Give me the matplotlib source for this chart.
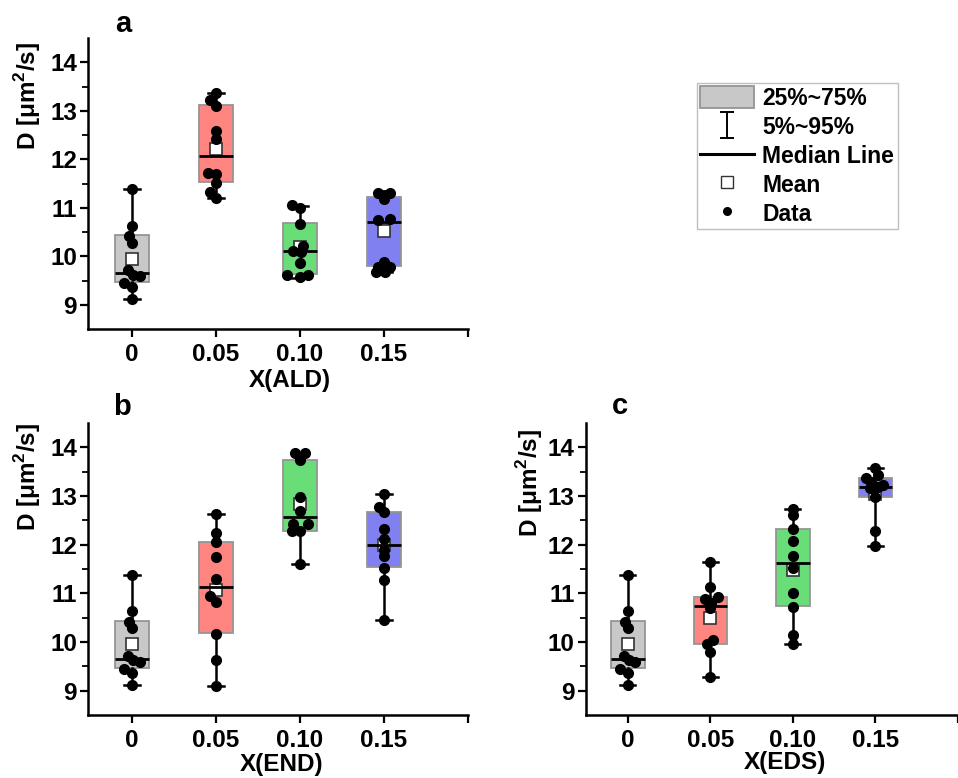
import matplotlib
matplotlib.use("Agg")
import matplotlib.pyplot as plt
from matplotlib.patches import Patch
from matplotlib.lines import Line2D
from matplotlib.path import Path

plt.rcParams['font.family'] = ['Liberation Sans', 'DejaVu Sans']
plt.rcParams['font.weight'] = 'bold'
plt.rcParams['mathtext.fontset'] = 'custom'
plt.rcParams['mathtext.rm'] = 'Liberation Sans:bold'
plt.rcParams['mathtext.bf'] = 'Liberation Sans:bold'

# ---------------- data ----------------
categories = ['0', '0.05', '0.10', '0.15']
box_colors = ['#c8c8c8', '#ff8580', '#68dd78', '#8080f0']

gray_vals = [11.38, 10.63, 10.41, 10.28, 9.72, 9.62, 9.59, 9.45, 9.36, 9.12]
gray_jit = [0, 0, -0.03, 0, -0.05, 0.01, 0.09, -0.09, 0, 0]

# panel a: X(ALD)
a_vals = [gray_vals,
          [13.37, 13.23, 13.10, 12.59, 12.41, 11.72, 11.70, 11.52, 11.33, 11.21],
          [11.05, 10.99, 10.67, 10.22, 10.10, 10.08, 9.86, 9.61, 9.57, 9.61],
          [11.31, 11.30, 11.19, 10.75, 10.77, 9.88, 9.78, 9.78, 9.68, 9.67]]
a_jit = [gray_jit,
         [0, -0.075, 0, 0, 0, -0.095, 0, 0, -0.07, 0],
         [-0.10, 0, 0, 0.035, -0.08, 0.015, 0, -0.16, 0, 0.095],
         [-0.07, 0.07, 0, -0.07, 0.075, 0, -0.07, 0.07, -0.09, 0.01]]
a_q1 = [9.46, 11.53, 9.63, 9.79]
a_med = [9.655, 12.07, 10.10, 10.71]
a_q3 = [10.43, 13.12, 10.69, 11.22]
a_mean = [9.95, 12.22, 10.20, 10.52]
a_lo = [9.12, 11.21, 9.55, 9.67]
a_hi = [11.38, 13.37, 11.03, 11.34]

# panel b: X(END)
b_vals = [gray_vals,
          [12.62, 12.24, 12.06, 11.74, 11.29, 10.94, 10.83, 10.17, 9.63, 9.10],
          [13.88, 13.88, 13.74, 12.98, 12.69, 12.43, 12.43, 12.29, 12.28, 11.61],
          [13.05, 12.78, 12.67, 12.32, 12.12, 11.89, 11.76, 11.52, 11.28, 10.45]]
b_jit = [gray_jit,
         [0, 0, 0, 0, 0, -0.07, 0, 0, 0, 0],
         [-0.065, 0.055, 0, 0, 0, -0.085, 0.095, -0.10, 0, 0],
         [0, -0.065, 0, 0, 0, 0, 0, 0, 0, 0]]
b_q1 = [9.46, 10.19, 12.29, 11.54]
b_med = [9.655, 11.12, 12.57, 11.99]
b_q3 = [10.43, 12.06, 13.74, 12.68]
b_mean = [9.95, 11.06, 12.83, 12.00]
b_lo = [9.12, 9.10, 11.61, 10.45]
b_hi = [11.38, 12.62, 13.88, 13.05]

# panel c: X(EDS)
c_vals = [gray_vals,
          [11.64, 11.12, 10.93, 10.88, 10.81, 10.69, 10.05, 9.95, 9.80, 9.29],
          [12.74, 12.60, 12.32, 12.07, 11.76, 11.52, 11.01, 10.72, 10.14, 9.95],
          [13.57, 13.43, 13.36, 13.28, 13.22, 13.19, 13.16, 12.97, 12.28, 11.98]]
c_jit = [gray_jit,
         [0, 0, 0.09, -0.07, 0.01, -0.01, 0.03, -0.035, 0, 0],
         [0, 0, 0, 0, 0, 0, 0, 0, 0, 0],
         [0, 0.03, -0.11, -0.05, 0.09, 0.03, -0.07, 0, 0, 0]]
c_q1 = [9.46, 9.95, 10.74, 12.97]
c_med = [9.655, 10.74, 11.63, 13.19]
c_q3 = [10.43, 10.93, 12.33, 13.37]
c_mean = [9.95, 10.50, 11.48, 13.05]
c_lo = [9.12, 9.29, 9.95, 11.98]
c_hi = [11.38, 11.64, 12.74, 13.57]

panels = [
    dict(letter='a', xlabel='X(ALD)', vals=a_vals, jit=a_jit, q1=a_q1, med=a_med, q3=a_q3,
         mean=a_mean, lo=a_lo, hi=a_hi),
    dict(letter='b', xlabel='X(END)', vals=b_vals, jit=b_jit, q1=b_q1, med=b_med, q3=b_q3,
         mean=b_mean, lo=b_lo, hi=b_hi),
    dict(letter='c', xlabel='X(EDS)', vals=c_vals, jit=c_jit, q1=c_q1, med=c_med, q3=c_q3,
         mean=c_mean, lo=c_lo, hi=c_hi),
]

# ---------------- layout ----------------
W, H = 958, 778
fig = plt.figure(figsize=(W / 100, H / 100), dpi=100)

def fx(px):
    return px / W

def fy(py):
    return 1 - py / H

rects = [
    (88, 468, 38, 329),
    (88, 468, 423, 715),
    (585.7, 958, 423, 715),
]
xlims = [(0.476, 5.0), (0.476, 5.0), (0.49, 4.92)]
ylabel_pos = [(28, 96), (28, 477), (530, 483)]
xlabel_pos = [(290, 381), (282, 765), (785, 762)]
letter_pos = [(123, 24), (122, 407), (620, 406)]

positions = [1, 2, 3, 4]
edge_gray = '#959595'

for i, p in enumerate(panels):
    l, r, t, b = rects[i]
    ax = fig.add_axes([fx(l), fy(b), fx(r) - fx(l), fy(t) - fy(b)])
    stats = []
    for k in range(4):
        stats.append(dict(med=p['med'][k], q1=p['q1'][k], q3=p['q3'][k],
                          whislo=p['lo'][k], whishi=p['hi'][k], mean=p['mean'][k],
                          fliers=[]))
    bp = ax.bxp(stats, positions=positions, widths=0.405, capwidths=0.18,
                patch_artist=True, showmeans=False, showfliers=False,
                boxprops=dict(edgecolor=edge_gray, linewidth=1.3),
                whiskerprops=dict(color='black', linewidth=1.8),
                capprops=dict(color='black', linewidth=1.8),
                medianprops=dict(color='black', linewidth=2.0, zorder=6),
                manage_ticks=False)
    for patch, col in zip(bp['boxes'], box_colors):
        patch.set_facecolor(col)
        patch.set_zorder(2)
    for k in range(4):
        ax.plot(positions[k], p['mean'][k], marker='s', markersize=9,
                markerfacecolor='white', markeredgecolor='#333333',
                markeredgewidth=1.2, linestyle='none', zorder=4)
        xs = [positions[k] + j for j in p['jit'][k]]
        ax.plot(xs, p['vals'][k], marker='o', markersize=7, color='black',
                linestyle='none', zorder=5)

    ax.set_xlim(*xlims[i])
    ax.set_ylim(8.5, 14.5)
    ax.set_xticks([1, 2, 3, 4, 5])
    ax.set_xticklabels(categories + [''])
    ax.set_yticks([9, 10, 11, 12, 13, 14])
    ax.set_yticks([9.5, 10.5, 11.5, 12.5, 13.5], minor=True)
    ax.tick_params(axis='both', which='major', direction='out', length=6, width=1.6,
                   labelsize=17.5)
    ax.tick_params(axis='x', pad=4)
    ax.tick_params(axis='y', pad=2)
    ax.tick_params(axis='y', which='minor', direction='out', length=4, width=1.3)
    for lab in ax.get_xticklabels() + ax.get_yticklabels():
        lab.set_fontweight('bold')
    for s in ['top', 'right']:
        ax.spines[s].set_visible(False)
    for s in ['left', 'bottom']:
        ax.spines[s].set_linewidth(1.8)

    fig.text(fx(ylabel_pos[i][0]), fy(ylabel_pos[i][1]), 'D [μm$^{2}$/s]',
             rotation=90, ha='center', va='center', fontsize=17.5, fontweight='bold')
    fig.text(fx(xlabel_pos[i][0]), fy(xlabel_pos[i][1]), p['xlabel'],
             ha='center', va='center', fontsize=17.5, fontweight='bold')
    fig.text(fx(letter_pos[i][0]), fy(letter_pos[i][1]), p['letter'],
             ha='center', va='center', fontsize=21, fontweight='bold')

# ---------------- legend ----------------
ibar = Path([(-0.55, 1), (0.55, 1), (0, 1), (0, -1), (-0.55, -1), (0.55, -1)],
            [Path.MOVETO, Path.LINETO, Path.MOVETO, Path.LINETO, Path.MOVETO, Path.LINETO])
handles = [
    Patch(facecolor='#c8c8c8', edgecolor=edge_gray, linewidth=1.3),
    Line2D([], [], marker=ibar, markersize=19, color='black', linestyle='none',
           markeredgewidth=1.4),
    Line2D([], [], color='black', linewidth=2.2),
    Line2D([], [], marker='s', markersize=8, markerfacecolor='white',
           markeredgecolor='#333333', markeredgewidth=1.0, linestyle='none'),
    Line2D([], [], marker='o', markersize=5.5, color='black', linestyle='none'),
]
labels = ['25%~75%', '5%~95%', 'Median Line', 'Mean', 'Data']
leg = fig.legend(handles, labels, loc='upper left',
                 bbox_to_anchor=(fx(697), fy(83)), borderaxespad=0,
                 frameon=True, fancybox=False, edgecolor='#b0b0b0',
                 prop=dict(size=16.5, weight='bold'), handlelength=2.35,
                 handleheight=1.1, handletextpad=0.35, labelspacing=0.22,
                 borderpad=0.15)
leg.get_frame().set_linewidth(1.0)

fig.savefig('out.png', dpi=100)
